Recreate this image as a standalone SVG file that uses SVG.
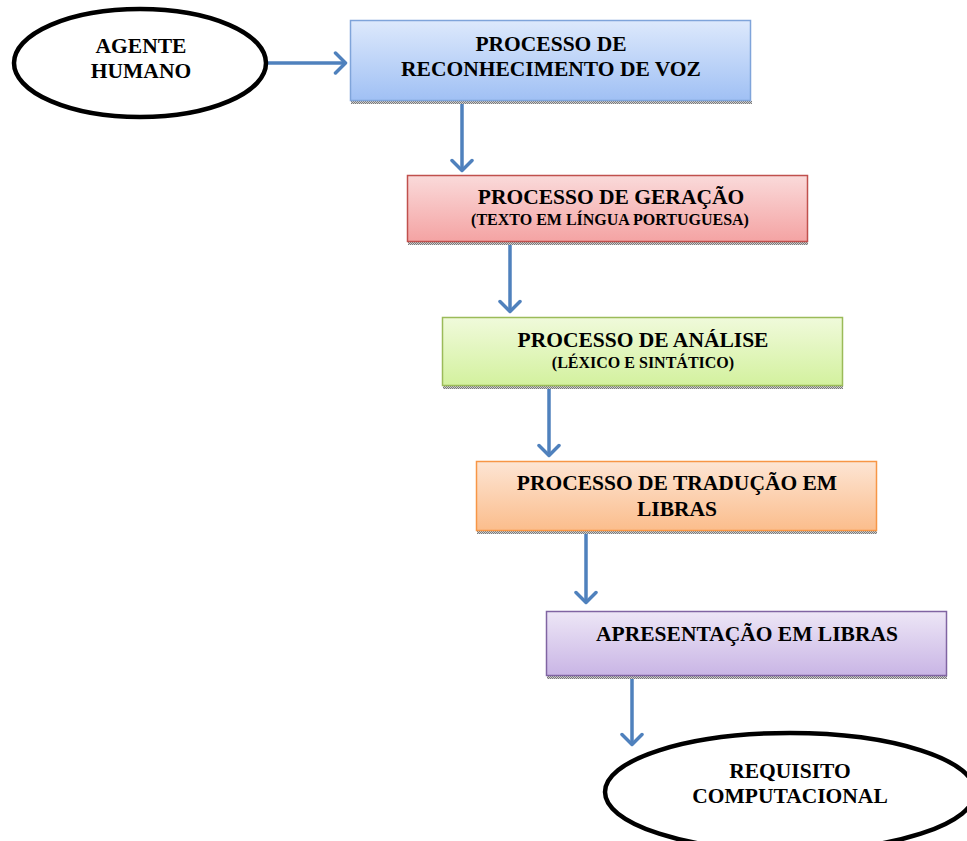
<svg xmlns="http://www.w3.org/2000/svg" width="967" height="841" viewBox="0 0 967 841">
  <defs>
    <linearGradient id="gBlue" x1="0" y1="0" x2="0" y2="1">
      <stop offset="0" stop-color="#dde9fc"/>
      <stop offset="1" stop-color="#a0c0f4"/>
    </linearGradient>
    <linearGradient id="gRed" x1="0" y1="0" x2="0" y2="1">
      <stop offset="0" stop-color="#fadada"/>
      <stop offset="1" stop-color="#f4a3a3"/>
    </linearGradient>
    <linearGradient id="gGreen" x1="0" y1="0" x2="0" y2="1">
      <stop offset="0" stop-color="#f0fadb"/>
      <stop offset="1" stop-color="#d3f19e"/>
    </linearGradient>
    <linearGradient id="gOrange" x1="0" y1="0" x2="0" y2="1">
      <stop offset="0" stop-color="#fde5d4"/>
      <stop offset="1" stop-color="#fbbd8c"/>
    </linearGradient>
    <linearGradient id="gPurple" x1="0" y1="0" x2="0" y2="1">
      <stop offset="0" stop-color="#ede6f6"/>
      <stop offset="1" stop-color="#c9b5e5"/>
    </linearGradient>
    <pattern id="shade" width="2" height="2" patternUnits="userSpaceOnUse">
      <rect width="2" height="2" fill="#d0d0d0"/>
      <rect width="1" height="1" fill="#7a7a7a"/>
      <rect x="1" y="1" width="1" height="1" fill="#7a7a7a"/>
    </pattern>
    <marker id="chev" viewBox="0 0 16 24" refX="13.5" refY="12" markerWidth="16" markerHeight="24" markerUnits="userSpaceOnUse" orient="auto">
      <path d="M3,2 L13,12 L3,22" fill="none" stroke="#4f81bd" stroke-width="3.5" stroke-linecap="round" stroke-linejoin="round"/>
    </marker>
  </defs>
  <style>
    .t { font-family: "Liberation Serif", "Times New Roman", serif; font-weight: bold; fill: #000; text-anchor: middle; }
    .big { font-size: 21.5px; }
    .small { font-size: 16px; }
    .oval { fill: #fff; stroke: #000; stroke-width: 4.5; }
    .conn { fill: none; stroke: #4f81bd; stroke-width: 3.5; marker-end: url(#chev); }
    .shadow { fill: url(#shade); }
  </style>

  <rect width="967" height="841" fill="#fff"/>

  <g id="connectors">
    <line class="conn" x1="268" y1="63" x2="346" y2="63"/>
    <line class="conn" x1="462" y1="102" x2="462" y2="171"/>
    <line class="conn" x1="510" y1="243" x2="510" y2="312"/>
    <line class="conn" x1="549" y1="387" x2="549" y2="456"/>
    <line class="conn" x1="586" y1="532" x2="586" y2="603"/>
    <line class="conn" x1="632" y1="677" x2="632" y2="745"/>
  </g>

  <g id="agente-humano">
    <ellipse class="oval" cx="140" cy="63" rx="126" ry="54"/>
    <text class="t big" x="141" y="53">AGENTE</text>
    <text class="t big" x="141" y="78">HUMANO</text>
  </g>

  <g id="reconhecimento-voz">
    <rect class="shadow" x="351" y="101" width="401" height="3"/>
    <rect x="350.5" y="20.5" width="400" height="80" fill="url(#gBlue)" stroke="#7fa4da" stroke-width="1.5"/>
    <text class="t big" x="551" y="51">PROCESSO DE</text>
    <text class="t big" x="551" y="76">RECONHECIMENTO DE VOZ</text>
  </g>

  <g id="geracao">
    <rect class="shadow" x="408" y="242" width="400" height="3"/>
    <rect x="407.5" y="175.5" width="400" height="66" fill="url(#gRed)" stroke="#c0504d" stroke-width="1.5"/>
    <text class="t big" x="611" y="204">PROCESSO DE GERAÇÃO</text>
    <text class="t small" x="610" y="225">(TEXTO EM LÍNGUA PORTUGUESA)</text>
  </g>

  <g id="analise">
    <rect class="shadow" x="443" y="386" width="400" height="3"/>
    <rect x="442.5" y="317.5" width="400" height="68" fill="url(#gGreen)" stroke="#9bbb59" stroke-width="1.5"/>
    <text class="t big" x="643" y="347">PROCESSO DE ANÁLISE</text>
    <text class="t small" x="643" y="368">(LÉXICO E SINTÁTICO)</text>
  </g>

  <g id="traducao-libras">
    <rect class="shadow" x="477" y="531" width="400" height="3"/>
    <rect x="476.5" y="461.5" width="400" height="69" fill="url(#gOrange)" stroke="#f79646" stroke-width="1.5"/>
    <text class="t big" x="677" y="490">PROCESSO DE TRADUÇÃO EM</text>
    <text class="t big" x="677" y="516">LIBRAS</text>
  </g>

  <g id="apresentacao-libras">
    <rect class="shadow" x="547" y="676" width="400" height="3"/>
    <rect x="546.5" y="611.5" width="400" height="64" fill="url(#gPurple)" stroke="#8064a2" stroke-width="1.5"/>
    <text class="t big" x="747" y="641">APRESENTAÇÃO EM LIBRAS</text>
  </g>

  <g id="requisito-computacional">
    <ellipse class="oval" cx="790" cy="792" rx="185" ry="59"/>
    <text class="t big" x="790" y="778">REQUISITO</text>
    <text class="t big" x="790" y="803">COMPUTACIONAL</text>
  </g>
</svg>
